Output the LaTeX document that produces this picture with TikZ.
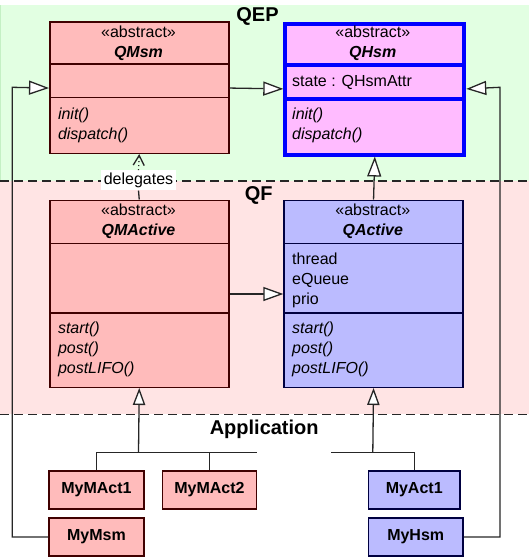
\documentclass[tikz,border=0pt]{standalone}
\usepackage{fontspec}
\setmainfont{Liberation Sans}
\usetikzlibrary{arrows.meta}
\definecolor{qepbg}{HTML}{E2FFE2}
\definecolor{qepline}{HTML}{C4F0C4}
\definecolor{qfbg}{HTML}{FFE4E4}
\definecolor{pinkfill}{HTML}{FFBBBB}
\definecolor{pinkline}{HTML}{400000}
\definecolor{hsmfill}{HTML}{FFBBFF}
\definecolor{hsmline}{HTML}{0000FF}
\definecolor{bluefill}{HTML}{BBBBFF}
\definecolor{blueline}{HTML}{000040}
\definecolor{conn}{HTML}{262626}
\begin{document}
\begin{tikzpicture}[x=1pt,y=-1pt,font=\fontsize{16}{20}\selectfont,
  cell/.style={draw,line width=1.5pt,inner sep=0pt,anchor=north west,minimum width=179pt},
  pcell/.style={cell,draw=pinkline,fill=pinkfill},
  bcell/.style={cell,draw=blueline,fill=bluefill},
  hcell/.style={cell,draw=hsmline,fill=hsmfill,line width=4pt},
  leaf/.style={draw,line width=1.5pt,inner sep=0pt,minimum height=38.3pt,font=\fontsize{16}{20}\selectfont\bfseries},
  pleaf/.style={leaf,draw=pinkline,fill=pinkfill},
  bleaf/.style={leaf,draw=blueline,fill=bluefill},
  head/.style={anchor=north,inner sep=0pt,yshift=14pt,align=center},
  body/.style={anchor=north west,inner sep=0pt,yshift=14pt,align=left},
  meth/.style={body,font=\fontsize{16}{20}\selectfont\itshape},
  title/.style={anchor=base,font=\fontsize{20}{24}\selectfont\bfseries},
  wire/.style={draw=conn,line width=1.3pt},
  gen/.style={wire,-{Triangle[fill=white,length=20pt,width=14pt]}},
  gensm/.style={wire,-{Triangle[fill=white,length=17pt,width=12.3pt]}}]
\useasboundingbox (0,0) rectangle (529,557);
% packages
\fill[qepbg] (0,5) rectangle (529,181);
\fill[qfbg] (0,181) rectangle (529,414.3);
\draw[qepline,line width=1pt] (0.5,5) -- (0.5,181);
\foreach \y in {181,414.3}\draw[wire,dash pattern=on 9pt off 5pt] (0,\y) -- (529,\y);
\node[title] (qep) at (257.5,21) {QEP};
\node[title] (qf) at (258.8,200) {QF};
\node[title] (app) at (264.2,434.3) {Application};
% QEP classes
\node[pcell,minimum height=42.3pt] (QMsmH) at (49,21) {};
\node[pcell,minimum height=33.4pt] (QMsmA) at (49,63.3) {};
\node[pcell,minimum height=55.8pt] (QMsmM) at (49,96.7) {};
\node[head] (QMsmHt) at (138.5,37.3) {\strut«abstract»\\\textbf{\textit{QMsm}}};
\node[meth] (QMsmMt) at (57.8,119.3) {\strut init()\\dispatch()};
\node[hcell,minimum height=40.8pt] (QHsmH) at (283.3,21.7) {};
\node[hcell,minimum height=34.2pt] (QHsmA) at (283.3,62.5) {};
\node[hcell,minimum height=55.8pt] (QHsmM) at (283.3,96.7) {};
\node[head] (QHsmHt) at (372.8,37) {\strut«abstract»\\\textbf{\textit{QHsm}}};
\node[body] (QHsmAt) at (292,86) {\strut state : QHsmAttr};
\node[meth] (QHsmMt) at (292,119.3) {\strut init()\\dispatch()};
% QF classes
\node[pcell,minimum height=43pt] (QMActH) at (49,199.5) {};
\node[pcell,minimum height=69.5pt] (QMActA) at (49,242.5) {};
\node[pcell,minimum height=74.5pt] (QMActM) at (49,312) {};
\node[head] (QMActHt) at (138.5,215.5) {\strut«abstract»\\\textbf{\textit{QMActive}}};
\node[meth] (QMActMt) at (57.8,333.7) {\strut start()\\post()\\postLIFO()};
\node[bcell,minimum height=43pt] (QActH) at (283.3,199.5) {};
\node[bcell,minimum height=69.5pt] (QActA) at (283.3,242.5) {};
\node[bcell,minimum height=74.5pt] (QActM) at (283.3,312) {};
\node[head] (QActHt) at (372.8,215.5) {\strut«abstract»\\\textbf{\textit{QActive}}};
\node[body] (QActAt) at (292,264.3) {\strut thread\\eQueue\\prio};
\node[meth] (QActMt) at (292,333.7) {\strut start()\\post()\\postLIFO()};
% application classes
\node[pleaf,minimum width=95pt] (MyMAct1) at (96.5,489.9) {MyMAct1};
\node[pleaf,minimum width=94.4pt] (MyMAct2) at (209.5,489.9) {MyMAct2};
\node[pleaf,minimum width=95pt] (MyMsm) at (96.5,536.9) {MyMsm};
\node[bleaf,minimum width=91.7pt] (MyAct1) at (414.2,489.9) {MyAct1};
\node[bleaf,minimum width=94.7pt] (MyHsm) at (415.7,536.9) {MyHsm};
% generalizations
\draw[gen] ([yshift=-7.3pt]QMsmA.east) -- ([yshift=-7.3pt]QHsmA.west);
\draw[gen] (MyMsm.west) -| (12.3,87.3) -- ([yshift=-7.3pt]QMsmA.west);
\draw[gen] (MyHsm.east) -| (500,87.3) -- ([yshift=-7.3pt]QHsmA.east);
\draw[gen] (QActH.north) -- (QHsmM.south);
\draw[gen] ([yshift=-16pt]QMActA.east) -- ([yshift=-16pt]QActA.west);
\coordinate (jl) at (138.5,452.3);
\coordinate (jr) at (372.8,452.3);
\draw[gensm] (jl) -- (QMActM.south);
\draw[wire] (MyMAct1.north) |- (MyMAct2.north east |- jl);
\draw[wire] (MyMAct2.north) -- (MyMAct2.north |- jl);
\draw[gensm] (jr) -- (QActM.south);
\draw[wire] (MyAct1.north) |- (330.7,452.3);
% delegation
\node[fill=white,inner sep=2.5pt,anchor=base] (dlg) at (138.5,184.5) {delegates};
\draw[wire] (QMActH.north) -- (dlg.south);
\draw[wire,dash pattern=on 1pt off 3pt,-{Straight Barb[length=10pt,width=11pt]}] (dlg.north) -- (QMsmM.south);
\end{tikzpicture}
\end{document}
